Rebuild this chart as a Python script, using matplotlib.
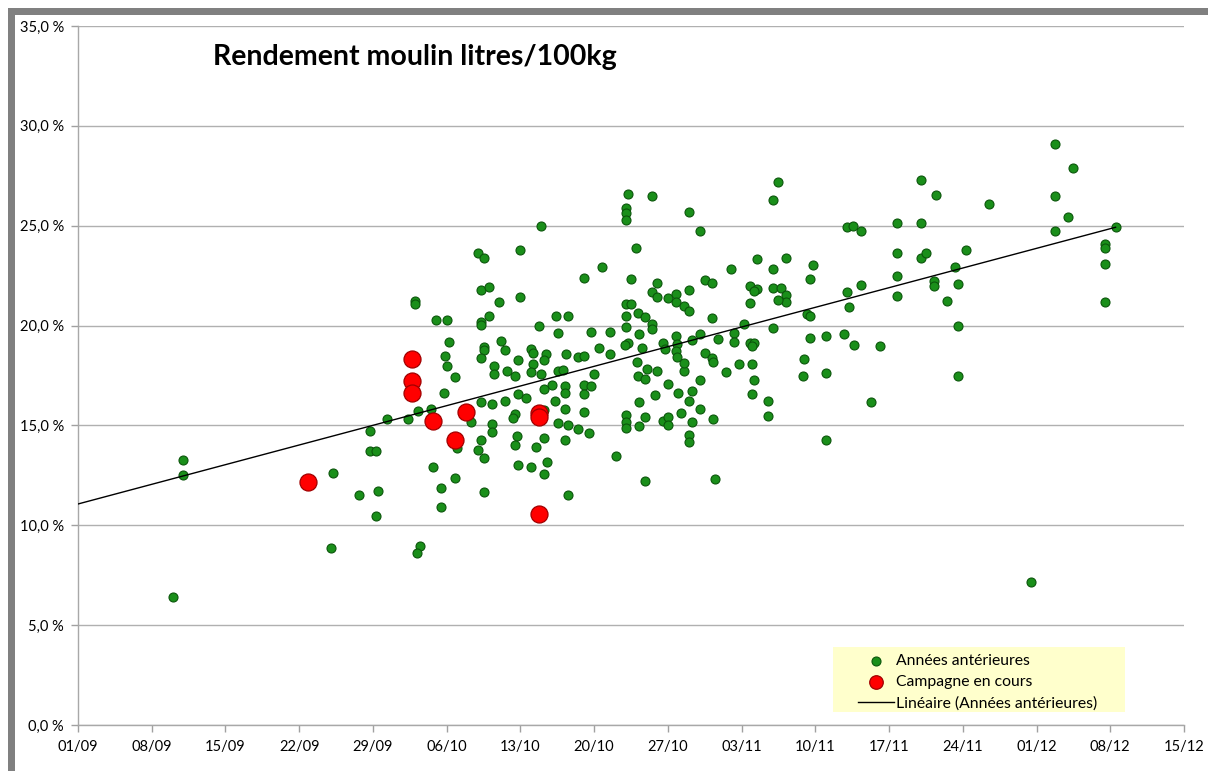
import numpy as np
import matplotlib.pyplot as plt
from matplotlib.patches import Rectangle
from matplotlib.ticker import FuncFormatter

plt.rcParams['font.family'] = ['Lato', 'DejaVu Sans']

# Data : x = jours depuis le 01/09, y = rendement en %
anterieures_jours = [
    29.3, 27.7, 27.7, 28.3, 10.0, 10.0, 24.2, 28.5, 26.7, 28.3, 24.0, 9.0,
    44.0, 38.0, 38.5, 42.0, 38.3, 39.0, 40.0, 42.0, 32.0, 32.0, 34.0, 35.0,
    38.3, 38.3, 39.0, 43.8, 45.4, 45.6, 35.2, 38.5, 38.5, 38.3, 34.8, 35.0,
    35.8, 40.2, 40.5, 41.75, 39.5, 39.5, 40.7, 41.5, 43.0, 43.2, 44.4, 44.25,
    43.2, 43.0, 44.0, 45.6,
    34.75, 45.0, 44.25, 41.75, 42.5, 38.3, 39.3, 40.5, 45.25, 31.3, 32.25, 33.5,
    37.3, 39.3, 41.5, 41.3, 44.2, 45.6, 39.3, 41.7, 41.5, 38.3, 36.0, 38.0,
    38.5, 44.25, 43.5, 44.5, 41.75, 43.0, 44.25, 33.75, 35.8, 34.5, 38.5, 34.5,
    32.5, 32.2,
    52.25, 54.5, 52.0, 52.0, 52.0, 58.0, 59.05, 53.0, 49.7, 48.0, 52.5, 55.0,
    54.5, 55.0, 56.0, 56.75, 56.75, 58.0, 59.5, 60.2, 57.5, 58.0, 60.2, 52.0,
    52.5, 52.0, 53.2, 53.8, 54.5, 54.5, 52.0, 46.5, 48.7, 50.5, 53.3, 52.2,
    51.9, 49.5, 53.5, 50.5, 55.5, 55.75, 56.75, 56.9, 56.75, 58.25, 59.05, 60.8,
    59.5, 46.3, 47.5, 48.0, 56.9, 60.2,
    53.05, 54.0, 55.0, 53.2, 53.8, 56.0, 57.5, 59.05, 60.25, 57.5, 49.0, 46.0,
    46.2, 46.2, 48.0, 48.7, 48.0, 46.25, 48.0, 46.5, 47.5, 48.5, 46.25, 46.5,
    52.0, 52.0, 52.0, 53.3, 53.8, 53.3, 54.8, 57.0, 58.0, 58.25, 59.05, 57.25,
    55.5, 56.0, 56.0, 58.25, 60.25, 58.0, 58.0, 51.05, 53.8, 60.5,
    66.5, 66.0, 73.0, 73.55, 74.3, 64.5, 67.25, 62.0, 66.0, 69.75, 69.5, 63.8,
    64.5, 64.2, 66.0, 66.75, 67.25, 67.25, 66.5, 63.8, 73.0, 74.3, 73.2, 69.2,
    69.5, 63.25, 66.0,
    62.3, 62.3, 63.8, 64.2, 64.0, 61.5, 62.75, 64.0, 64.2, 64.0, 65.5, 65.5,
    69.5, 71.0, 72.7, 73.7, 76.15, 68.95, 68.8, 71.0, 75.3, 71.0,
    92.8, 94.5, 80.0, 81.5, 86.5, 92.8, 94.0, 92.8, 77.8, 80.0, 98.5, 77.8,
    80.0, 80.5, 84.3, 83.25, 97.5, 97.5, 97.5, 77.8, 81.3, 81.3, 83.5, 77.8,
    82.5, 97.5,
    83.5, 83.5, 90.5,
]
anterieures_rdt = [
    15.3, 14.7, 13.7, 13.7, 13.25, 12.5, 12.6, 11.7, 11.5, 10.45, 8.85, 6.4,
    25.0, 23.65, 23.4, 23.8, 21.8, 21.95, 21.2, 21.45, 21.25, 21.1, 20.3, 20.3,
    20.2, 20.05, 20.5, 20.0, 20.5, 19.65, 19.2, 18.95, 18.8, 18.4, 18.5, 18.0,
    17.4, 19.25, 18.8, 18.3, 18.0, 17.6, 17.75, 17.5, 18.85, 18.65, 18.6, 18.3,
    18.1, 17.7, 17.6, 17.75,
    16.6, 17.0, 16.8, 16.55, 16.35, 16.15, 16.05, 16.2, 16.2, 15.3, 15.7, 15.8,
    15.15, 15.05, 15.55, 15.35, 15.75, 15.1, 14.65, 14.45, 14.0, 14.25, 13.85, 13.75,
    13.35, 14.35, 13.9, 13.15, 13.0, 12.9, 12.55, 12.9, 12.35, 11.85, 11.65, 10.9,
    8.95, 8.6,
    26.6, 26.5, 25.9, 25.65, 25.3, 25.7, 24.75, 23.9, 22.95, 22.4, 22.35, 22.15,
    21.7, 21.45, 21.4, 21.6, 21.2, 21.8, 22.3, 22.15, 21.0, 20.75, 20.4, 21.1,
    21.1, 20.5, 20.65, 20.45, 20.1, 19.85, 19.95, 20.5, 19.7, 19.7, 19.6, 19.15,
    19.05, 18.9, 18.9, 18.6, 19.15, 18.85, 19.5, 19.1, 18.75, 19.3, 19.6, 19.35,
    18.65, 18.6, 18.45, 18.5, 18.45, 18.4,
    18.2, 17.85, 17.75, 17.5, 17.3, 17.05, 17.75, 17.25, 18.2, 18.15, 17.6, 17.8,
    16.95, 16.6, 17.0, 16.95, 16.55, 15.8, 15.65, 15.0, 14.8, 14.6, 14.25, 11.5,
    15.5, 15.15, 14.85, 16.15, 15.4, 14.95, 16.5, 16.6, 16.2, 16.7, 15.8, 15.6,
    15.2, 15.4, 15.0, 15.15, 15.3, 14.5, 14.15, 13.45, 12.2, 12.3,
    27.2, 26.3, 24.95, 25.0, 24.75, 23.35, 23.4, 22.85, 22.85, 23.05, 22.35, 22.0,
    21.85, 21.75, 21.9, 21.9, 21.55, 21.2, 21.3, 21.15, 21.7, 22.05, 20.95, 20.6,
    20.5, 20.1, 19.9,
    19.65, 19.2, 19.15, 19.15, 19.0, 17.7, 18.1, 18.1, 17.25, 16.55, 16.2, 15.45,
    19.4, 19.5, 19.6, 19.05, 19.0, 18.35, 17.45, 17.65, 16.15, 14.25,
    29.1, 27.9, 27.3, 26.55, 26.1, 26.5, 25.45, 24.75, 25.15, 25.15, 24.95, 23.65,
    23.4, 23.65, 23.8, 22.95, 24.1, 23.9, 23.1, 22.5, 22.25, 22.0, 22.1, 21.5,
    21.25, 21.2,
    20.0, 17.45, 7.15,
]
campagne_jours = [21.8, 31.7, 31.7, 31.7, 33.7, 36.8, 43.8, 43.8, 35.8, 43.8]
campagne_rdt = [12.15, 18.35, 17.2, 16.6, 15.2, 15.65, 15.6, 15.4, 14.25, 10.55]

dates_ticks = ['01/09', '08/09', '15/09', '22/09', '29/09', '06/10', '13/10',
               '20/10', '27/10', '03/11', '10/11', '17/11', '24/11', '01/12',
               '08/12', '15/12']

W, H = 1208, 771
fig = plt.figure(figsize=(W / 100, H / 100), dpi=100)

# gray window edge, top and left
fig.patches.append(Rectangle((8 / W, 1 - 15 / H), 1, 7 / H, transform=fig.transFigure,
                             facecolor='#808080', edgecolor='none'))
fig.patches.append(Rectangle((8 / W, 0), 7 / W, 1 - 8 / H, transform=fig.transFigure,
                             facecolor='#808080', edgecolor='none'))

ax = fig.add_axes([78 / W, 46 / H, (1184 - 78) / W, (725 - 26) / H])

ax.scatter(anterieures_jours, anterieures_rdt, s=42, facecolor='#1a8f1a',
           edgecolor='#0b560b', linewidth=0.8, zorder=3, label='Années antérieures')
ax.scatter(campagne_jours, campagne_rdt, s=150, facecolor='#ff0000',
           edgecolor='#a00000', linewidth=0.9, zorder=4, label='Campagne en cours')

# Linear trend on previous years
a, b = np.polyfit(anterieures_jours, anterieures_rdt, 1)
xt = np.array([0, max(anterieures_jours)])
ax.plot(xt, a * xt + b, color='black', linewidth=1.0, zorder=5,
        label='Linéaire (Années antérieures)')

ax.set_xlim(0, 7 * (len(dates_ticks) - 1))
ax.set_ylim(0, 35)
ax.set_xticks(np.arange(len(dates_ticks)) * 7)
ax.set_xticklabels(dates_ticks)
ax.set_yticks(np.arange(0, 36, 5))
ax.yaxis.set_major_formatter(FuncFormatter(lambda v, p: f"{v:.1f}".replace('.', ',') + " %"))
ax.tick_params(axis='both', labelsize=10.5, color='#a0a0a0', length=5, width=1)
ax.tick_params(axis='x', pad=6)
ax.tick_params(axis='y', pad=5)

ax.grid(axis='y', color='#b0b0b0', linewidth=1.0, zorder=0)
ax.set_axisbelow(True)
for side in ['top', 'right']:
    ax.spines[side].set_visible(False)
for side in ['left', 'bottom']:
    ax.spines[side].set_color('#a8a8a8')
    ax.spines[side].set_linewidth(1.0)

fig.text(213 / W, 1 - 65 / H, 'Rendement moulin litres/100kg', fontsize=20.5,
         fontweight='bold', va='baseline', ha='left')

# Legend with pale yellow background
ax.add_patch(Rectangle((833 / W, 1 - 712 / H), (1125 - 833) / W, (712 - 647) / H,
                       transform=fig.transFigure, facecolor='#ffffcc',
                       edgecolor='none', zorder=2, clip_on=False))
leg = ax.legend(loc='upper left', bbox_to_anchor=(847 / W, 1 - 643 / H),
                bbox_transform=fig.transFigure, frameon=False, fontsize=11.3,
                handlelength=2.3, handletextpad=0.15, labelspacing=0.45,
                borderpad=0.2, scatterpoints=1)
leg.set_zorder(6)
leg.legend_handles[1].set_sizes([95])

fig.savefig('out.png', dpi=100)
